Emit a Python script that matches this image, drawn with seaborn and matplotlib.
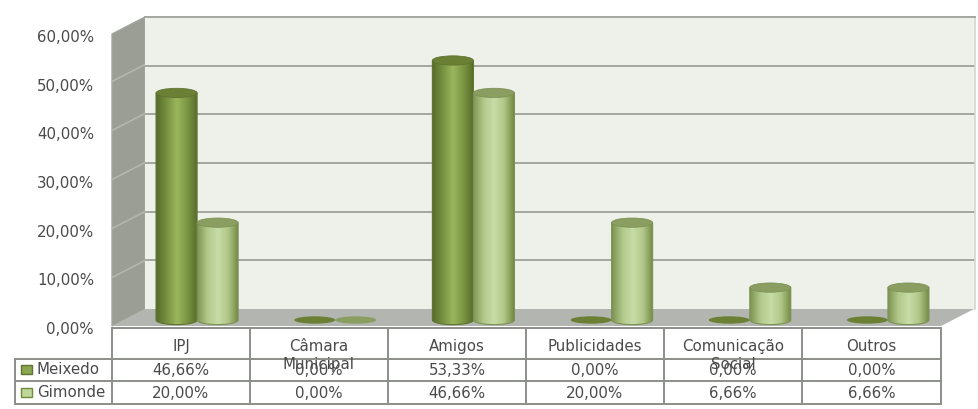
import numpy as np
import pandas as pd
import matplotlib
matplotlib.use('Agg')
import matplotlib.pyplot as plt
import seaborn as sns
from matplotlib.colors import LinearSegmentedColormap
from matplotlib.patches import Ellipse, PathPatch, Polygon, Rectangle
from matplotlib.path import Path
from matplotlib.ticker import FuncFormatter

categorias = ['IPJ', 'Câmara\nMunicipal', 'Amigos', 'Publicidades', 'Comunicação\nSocial', 'Outros']
meixedo = [46.66, 0.00, 53.33, 0.00, 0.00, 0.00]
gimonde = [20.00, 0.00, 46.66, 20.00, 6.66, 6.66]
meixedo_txt = ['46,66%', '0,00%', '53,33%', '0,00%', '0,00%', '0,00%']
gimonde_txt = ['20,00%', '0,00%', '46,66%', '20,00%', '6,66%', '6,66%']
y_ticks = [0, 10, 20, 30, 40, 50, 60]

W, H = 979, 410
TXT = '#4a4a4a'
LINHA = '#8c8e8a'
GRID = '#a3a59f'
FS = 10.8

sns.set_theme(style='white')
plt.rcParams['font.family'] = ['DejaVu Sans']


def px_axes(fig, l, t, r, b, z):
    # eixos posicionados em pixels da figura
    return fig.add_axes([l / W, 1 - b / H, (r - l) / W, (b - t) / H], zorder=z)


def cilindro(ax, patch, cmap, topo, base_cor):
    x0 = patch.get_x()
    w = patch.get_width()
    v = patch.get_height()
    xc = x0 + w / 2
    eh = 1.9  # altura da elipse em unidades do eixo y
    if v <= 0:
        ax.add_patch(Ellipse((xc, 0), w, eh * 0.8, fc=topo, ec='none', zorder=4, clip_on=False))
        return
    ang = np.linspace(np.pi, 2 * np.pi, 40)
    arco = np.column_stack([xc + w / 2 * np.cos(ang), eh / 2 * np.sin(ang)])
    pts = np.vstack([[[x0, v]], arco, [[x0 + w, v]], [[x0, v]]])
    corpo = PathPatch(Path(pts), fc='none', ec=base_cor, lw=0.8, zorder=5, clip_on=False)
    ax.add_patch(corpo)
    grad = np.linspace(0, 1, 64).reshape(1, -1)
    im = ax.imshow(grad, extent=[x0, x0 + w, -eh, v], cmap=cmap, aspect='auto',
                   origin='lower', zorder=4)
    im.set_clip_box(ax.figure.bbox)  # a base arredondada fica abaixo do eixo
    im.set_clip_path(corpo)
    ax.add_patch(Ellipse((xc, v), w, eh, fc=topo, ec=base_cor, lw=0.6, zorder=6))


def desenhar():
    fig = plt.figure(figsize=(W / 100, H / 100), dpi=100, facecolor='white')

    # paredes e chao
    fundo = px_axes(fig, 0, 0, W, H, 0)
    fundo.set_xlim(0, W)
    fundo.set_ylim(H, 0)
    fundo.axis('off')
    fundo.add_patch(Polygon([(112, 35), (145, 18), (145, 310), (112, 327)], fc='#9b9e94', ec=GRID, lw=1))
    fundo.add_patch(Polygon([(112, 327), (145, 310), (974, 310), (941, 327)], fc='#b2b5b0', ec='none'))
    for k in range(1, 6):
        yy = 49 * k - 0.5
        fundo.plot([112, 145], [327 - yy, 310 - yy], color='#b4b6af', lw=1.2)

    # parede do fundo com as linhas de grelha
    parede = px_axes(fig, 145, 18, 975, 310, 1)
    parede.set_facecolor('#eef1ea')
    parede.set_xlim(0, 1)
    parede.set_ylim(0, 60)
    parede.set_xticks([])
    parede.set_yticks([])
    parede.hlines(y_ticks[1:-1], 0, 1, color=GRID, lw=1.4)
    sns.despine(ax=parede, right=False, top=False, left=True, bottom=True)
    parede.spines['top'].set_color(GRID)
    parede.spines['right'].set_color('#d5d7d0')
    parede.spines['top'].set_linewidth(1.4)

    # rotulos do eixo y no plano da frente
    frente = px_axes(fig, 112, 36, 941, 328, 1)
    frente.patch.set_alpha(0)
    frente.set_ylim(0, 60)
    frente.set_xticks([])
    frente.set_yticks(y_ticks)
    frente.yaxis.set_major_formatter(FuncFormatter(lambda v, _: f'{v:.2f}'.replace('.', ',') + '%'))
    frente.tick_params(axis='y', length=0, pad=13, labelsize=FS, labelcolor=TXT)
    sns.despine(ax=frente, left=True, bottom=True)

    # barras
    ax = px_axes(fig, 128, 29, 957, 321, 2)
    ax.patch.set_alpha(0)
    df = pd.DataFrame({
        'cat': categorias * 2,
        'serie': ['Meixedo'] * 6 + ['Gimonde'] * 6,
        'valor': meixedo + gimonde,
    })
    sns.barplot(data=df, x='cat', y='valor', hue='serie', width=0.594, legend=False,
                palette=['#8aa64e', '#c0d79c'], ax=ax)
    cm1 = LinearSegmentedColormap.from_list('m', ['#566b2a', '#76913f', '#9ab65d', '#7b9642', '#566b2a'])
    cm2 = LinearSegmentedColormap.from_list('g', ['#7f9454', '#b2c98b', '#c8dca8', '#b0c687', '#70853f'])
    barras = list(ax.patches)
    for i, p in enumerate(barras):
        p.set_visible(False)
        if i < 6:
            cilindro(ax, p, cm1, '#6b7f35', '#5f7430')
        else:
            cilindro(ax, p, cm2, '#8a9e62', '#7d9254')
    ax.set_xlim(-0.5, 5.5)
    ax.set_ylim(0, 60)
    ax.axis('off')

    # tabela de dados
    tab = px_axes(fig, 0, 0, W, H, 3)
    tab.set_xlim(0, W)
    tab.set_ylim(H, 0)
    tab.axis('off')
    colunas = [112, 250, 388, 526, 664, 802, 941]
    tab.add_patch(Rectangle((112, 329), 829, 31, fc='white', ec='none', zorder=1))
    tab.add_patch(Rectangle((15, 360), 926, 45, fc='white', ec='none', zorder=1))
    for i, c in enumerate(categorias):
        xc = (colunas[i] + colunas[i + 1]) / 2
        tab.text(xc, 339, c, ha='center', va='top', fontsize=FS, color=TXT, linespacing=1.25, zorder=3)
        tab.text(xc, 371, meixedo_txt[i], ha='center', va='center', fontsize=FS, color=TXT, zorder=3)
        tab.text(xc, 394, gimonde_txt[i], ha='center', va='center', fontsize=FS, color=TXT, zorder=3)
    for x in colunas:
        tab.plot([x, x], [329, 405], color=LINHA, lw=1.4, zorder=2)
    tab.plot([15, 15], [360, 405], color=LINHA, lw=1.4, zorder=2)
    tab.plot([112, 941], [329, 329], color=LINHA, lw=1.4, zorder=2)
    for y in (360, 382, 405):
        tab.plot([15, 941], [y, y], color=LINHA, lw=1.4, zorder=2)
    tab.add_patch(Rectangle((21, 366), 11, 9, fc='#8aa64e', ec='#5f7430', lw=1, zorder=3))
    tab.add_patch(Rectangle((21, 389), 11, 9, fc='#c0d79c', ec='#6f8a3c', lw=1, zorder=3))
    tab.text(37, 370, 'Meixedo', ha='left', va='center', fontsize=FS, color=TXT, zorder=3)
    tab.text(37, 393, 'Gimonde', ha='left', va='center', fontsize=FS, color=TXT, zorder=3)

    fig.savefig('out.png', dpi=100, facecolor='white')


if __name__ == "__main__":
    desenhar()
